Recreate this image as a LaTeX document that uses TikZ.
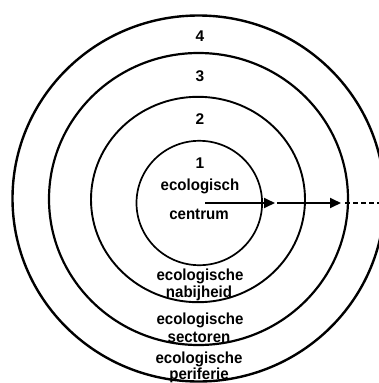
\documentclass[tikz,border=0pt]{standalone}
\usepackage{fontspec}
\setmainfont{Liberation Sans}
\usetikzlibrary{arrows.meta}
\newcommand{\narrowtxt}[1]{\scalebox{0.94}[1]{#1}}
\tikzset{
  lbl/.style={anchor=base, inner sep=0pt, font=\fontsize{16}{18}\selectfont\bfseries},
  num/.style={anchor=base, inner sep=0pt, font=\fontsize{15.5}{18}\selectfont\bfseries},
  ring/.style={draw=black, line width=#1},
  arr/.style={line width=1.8, -{Triangle[length=11,width=10]}},
  dashline/.style={line width=1.8, dash pattern=on 5 off 3}
}
\begin{document}
\begin{tikzpicture}[x=1pt,y=-1pt]
\useasboundingbox (0,0) rectangle (379,383);
\clip (0,0) rectangle (379,383);
\fill[white] (0,0) rectangle (379,383);
% rings
\draw[ring=2.4] (198.5,198.5) ellipse [x radius=186, y radius=183];
\draw[ring=2.2] (198.5,199) ellipse [x radius=149.5, y radius=146];
\draw[ring=1.9] (198,199.5) ellipse [x radius=107, y radius=102.7];
\draw[ring=1.7] (199.3,203) ellipse [x radius=62.8, y radius=62.2];
% labels
\node[num] (n4) at (200,41.5) {4};
\node[num] (n3) at (200,81.5) {3};
\node[num] (n2) at (200,124) {2};
\node[num] (n1) at (200,168) {1};
\node[lbl] (c1) at (200,190.5) {\narrowtxt{ecologisch}};
\node[lbl] (c2) at (199,219.5) {\narrowtxt{centrum}};
\node[lbl] (b1) at (200,280.5) {\narrowtxt{ecologische}};
\node[lbl] (b2) at (199,297.5) {\narrowtxt{nabijheid}};
\node[lbl] (s1) at (200,324.5) {\narrowtxt{ecologische}};
\node[lbl] (s2) at (199,342) {\narrowtxt{sectoren}};
\node[lbl] (p1) at (199,363.5) {\narrowtxt{ecologische}};
\node[lbl] (p2) at (199,379) {\narrowtxt{periferie}};
% arrows
\coordinate (a0) at (205,203);
\coordinate (a1) at (275,203);
\coordinate (a2) at (277,203);
\coordinate (a3) at (341,203);
\coordinate (a4) at (345,203);
\coordinate (a5) at (381,203);
\draw[arr] (a0) -- (a1);
\draw[arr] (a2) -- (a3);
\draw[dashline] (a4) -- (a5);
\end{tikzpicture}
\end{document}
